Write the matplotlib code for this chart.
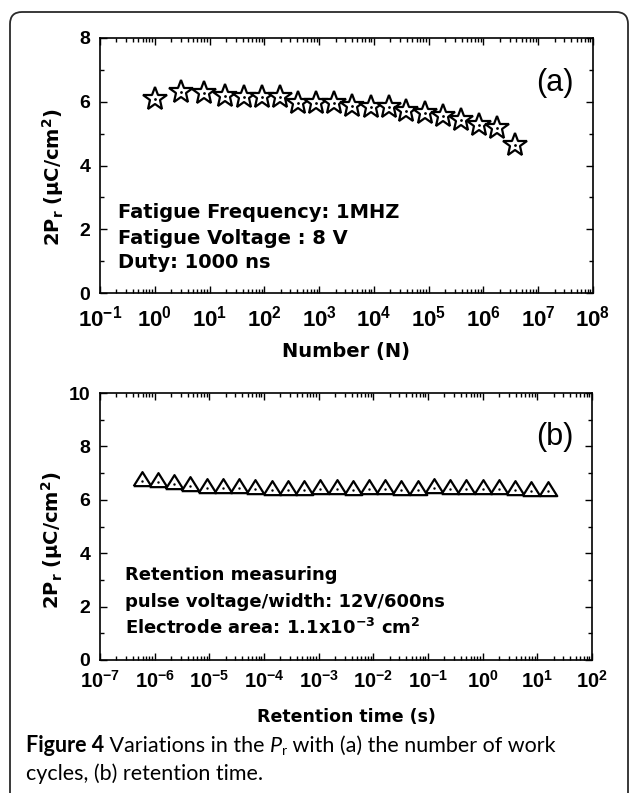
import numpy as np
import matplotlib
matplotlib.use("Agg")
import matplotlib.pyplot as plt
from matplotlib.ticker import LogLocator, FuncFormatter, MultipleLocator, NullFormatter
from matplotlib.patches import FancyBboxPatch

plt.rcParams['font.family'] = ['Liberation Sans', 'DejaVu Sans']
plt.rcParams['mathtext.fontset'] = 'custom'
plt.rcParams['mathtext.rm'] = 'Liberation Sans'
plt.rcParams['mathtext.bf'] = 'Liberation Sans:bold'
plt.rcParams['mathtext.it'] = 'Liberation Sans:italic'

# (a) fatigue: number of cycles vs 2Pr
cycles = [1, 3, 8, 19, 42, 90, 195, 420, 870, 1900, 4000, 8700, 18600,
          38000, 85000, 182000, 390000, 830000, 1.8e6, 3.8e6]
pr_fatigue = [6.10, 6.31, 6.26, 6.18, 6.16, 6.16, 6.15, 5.97, 5.97, 5.95,
              5.86, 5.82, 5.82, 5.71, 5.64, 5.55, 5.43, 5.27, 5.17, 4.65]

# (b) retention: time (s) vs 2Pr
ret_time = [5.8e-7, 1.15e-6, 2.3e-6, 4.5e-6, 8.9e-6, 1.77e-5, 3.5e-5, 6.95e-5,
            1.38e-4, 2.73e-4, 5.4e-4, 1.07e-3, 2.12e-3, 4.2e-3, 8.3e-3, 0.0165,
            0.0327, 0.0649, 0.1285, 0.255, 0.505, 1.0, 1.98, 3.93, 7.78, 15.4]
pr_retention = [6.72, 6.66, 6.60, 6.50, 6.44, 6.44, 6.44, 6.39, 6.35, 6.35,
                6.35, 6.42, 6.42, 6.38, 6.40, 6.42, 6.38, 6.38, 6.44, 6.42,
                6.42, 6.42, 6.42, 6.38, 6.34, 6.34]

ylab = r'$\mathbf{2P_r\ (\mu C/cm^2)}$'
W, H = 629, 793

fig = plt.figure(figsize=(W / 100, H / 100), dpi=100)

# frame round the figure
frame = FancyBboxPatch((0.10, -0.3), 6.18, 8.11, boxstyle="round,pad=0,rounding_size=0.12",
                       transform=fig.dpi_scale_trans, fill=False, ec='#2a2a2a', lw=1.3)
fig.patches.append(frame)


def logfmt(v, pos):
    return r'$\mathbf{10^{%d}}$' % int(round(np.log10(v)))


def style_axes(ax, xsize, xpad):
    ax.set_xscale('log')
    ax.xaxis.set_major_locator(LogLocator(base=10, numticks=20))
    ax.xaxis.set_minor_locator(LogLocator(base=10, subs=np.arange(2, 10), numticks=20))
    ax.xaxis.set_major_formatter(FuncFormatter(logfmt))
    ax.xaxis.set_minor_formatter(NullFormatter())
    ax.tick_params(which='both', direction='in', top=True, right=True, width=1.0)
    ax.tick_params(which='major', length=5)
    ax.tick_params(which='minor', length=3)
    ax.tick_params(axis='x', labelsize=xsize, pad=xpad)
    ax.tick_params(axis='y', labelsize=14, pad=7)
    for lab in ax.get_yticklabels():
        lab.set_fontweight('bold')
    for s in ax.spines.values():
        s.set_linewidth(1.2)


# ---- panel (a)
ax1 = fig.add_axes([100 / W, 1 - 293 / H, 493 / W, 255 / H])
ax1.plot(cycles, pr_fatigue, ls='none', marker='*', ms=18, mfc='white', mec='black', mew=1.6)
ax1.plot(cycles, pr_fatigue, ls='none', marker='.', ms=2, color='black')
ax1.set_xlim(1e-1, 1e8)
ax1.set_ylim(0, 8)
ax1.yaxis.set_major_locator(MultipleLocator(2))
ax1.yaxis.set_minor_locator(MultipleLocator(1))
style_axes(ax1, 16, 9)
ax1.set_xlabel('Number (N)', family='DejaVu Sans', fontweight='bold', fontsize=14, va='center')
ax1.xaxis.set_label_coords(0.5, (293 - 352) / 255)
ax1.set_ylabel(ylab, fontsize=14, math_fontfamily='dejavusans', va='center')
ax1.yaxis.set_label_coords((53 - 100) / 493, (293 - 177) / 255)
ax1.text(0.923, 0.824, '(a)', transform=ax1.transAxes, fontsize=22, ha='center', va='center')
notes_a = ['Fatigue Frequency: 1MHZ', 'Fatigue Voltage : 8 V', 'Duty: 1000 ns']
for txt, yy in zip(notes_a, [212, 238, 263]):
    ax1.text((118 - 100) / 493, (293 - yy) / 255, txt, transform=ax1.transAxes,
             family='DejaVu Sans', fontweight='bold', fontsize=14, va='center')

# ---- panel (b)
tri = [(-1, -0.53), (1, -0.53), (0, 1.07), (-1, -0.53)]
ax2 = fig.add_axes([100 / W, 1 - 660 / H, 492 / W, 267 / H])
ax2.plot(ret_time, pr_retention, ls='none', marker=tri, ms=13.5, mfc='white', mec='black', mew=1.6)
ax2.plot(ret_time, pr_retention, ls='none', marker='.', ms=1.5, color='black')
ax2.set_xlim(1e-7, 1e2)
ax2.set_ylim(0, 10)
ax2.yaxis.set_major_locator(MultipleLocator(2))
ax2.yaxis.set_minor_locator(MultipleLocator(1))
style_axes(ax2, 14.5, 7)
ax2.set_xlabel('Retention time (s)', family='DejaVu Sans', fontweight='bold', fontsize=12.5, va='center')
ax2.xaxis.set_label_coords(0.5, (660 - 717) / 267)
ax2.set_ylabel(ylab, fontsize=14, math_fontfamily='dejavusans', va='center')
ax2.yaxis.set_label_coords((52 - 100) / 492, (660 - 540) / 267)
ax2.text(0.925, 0.835, '(b)', transform=ax2.transAxes, fontsize=22, ha='center', va='center')
notes_b = ['Retention measuring', 'pulse voltage/width: 12V/600ns',
           r'Electrode area: 1.1x10$^{\mathbf{-3}}$ cm$^{\mathbf{2}}$']
for txt, yy in zip(notes_b, [575, 602, 628]):
    ax2.text((125 - 100) / 492, (660 - yy) / 267, txt, transform=ax2.transAxes,
             family='DejaVu Sans', fontweight='bold', fontsize=13, va='center',
             math_fontfamily='dejavusans')

# ---- caption
renderer = fig.canvas.get_renderer()


def put_line(pieces, x_px, y_px):
    x = x_px
    for s, kw in pieces:
        dy = kw.pop('dy', 0)
        t = fig.text(x / W, 1 - (y_px + dy) / H, s, va='baseline', family='Lato', **kw)
        x = t.get_window_extent(renderer).x1
    return x


cap = 15.5
put_line([('Figure 4', dict(fontweight='bold', fontsize=cap)),
          (' Variations in the ', dict(fontsize=cap)),
          ('P', dict(fontsize=cap, style='italic')),
          ('r', dict(fontsize=cap * 0.65, dy=3)),
          (' with (a) the number of work', dict(fontsize=cap))], 26, 752)
put_line([('cycles, (b) retention time.', dict(fontsize=cap))], 26, 780)

fig.savefig('out.png', dpi=100)
